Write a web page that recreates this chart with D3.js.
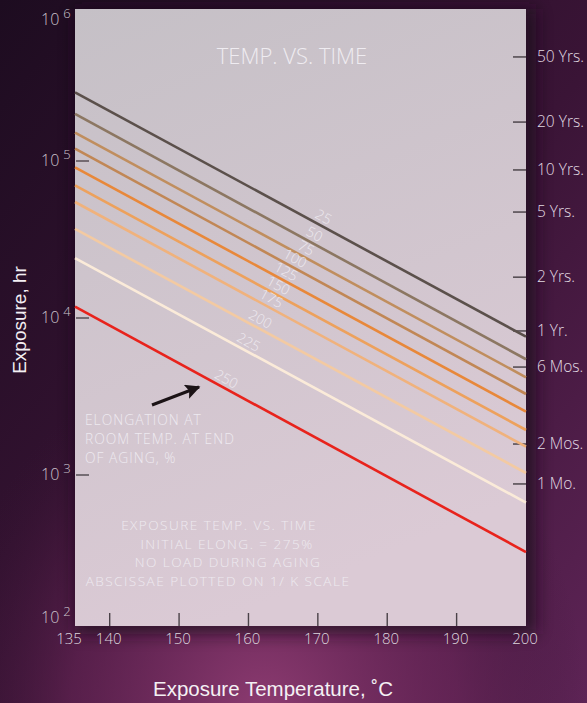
<!DOCTYPE html>
<html>
<head>
<meta charset="utf-8">
<script src="https://cdn.jsdelivr.net/npm/d3@7"></script>
<style>
  html, body { margin: 0; padding: 0; background: #1f0e22; }
  svg { display: block; }
</style>
</head>
<body>
<svg id="chart"></svg>
<script>
// Aging curves: elongation (%) left after exposure, hours at 135 C and at 200 C
const elongations = [25, 50, 75, 100, 125, 150, 175, 200, 225, 250];
const hoursAt135 = [274000, 199300, 151500, 119800, 91200, 70000, 54800, 36900, 24100, 11800];
const hoursAt200 = [7600, 5460, 4190, 3280, 2530, 1935, 1515, 1030, 667, 323];
const labelTemps = [170.2, 168.9, 167.7, 166.1, 164.8, 163.7, 162.7, 161.1, 159.4, 156.2];
const lineColors = ["#5b504b", "#8c7762", "#c08e5e", "#c18755", "#e8883a",
                    "#eda15c", "#f0b27c", "#f3caa2", "#fbebd9", "#e8231c"];

const tempTicks = [135, 140, 150, 160, 170, 180, 190, 200];
const decadeTicks = [1e2, 1e3, 1e4, 1e5, 1e6];
const durationLabels = ["50 Yrs.", "20 Yrs.", "10 Yrs.", "5 Yrs.", "2 Yrs.", "1 Yr.", "6 Mos.", "2 Mos.", "1 Mo."];
const durationHours = [460000, 177000, 87700, 47300, 18200, 8270, 4870, 1575, 877];

const notesLeft = ["ELONGATION AT", "ROOM TEMP. AT END", "OF AGING, %"];
const notesCenter = ["EXPOSURE TEMP. VS. TIME", "INITIAL ELONG. = 275%",
                     "NO LOAD DURING AGING", "ABSCISSAE PLOTTED ON 1/ K SCALE"];

const W = 587, H = 703;
const plot = { left: 75, right: 526, top: 9, bottom: 626 };
const lightFont = "'Open Sans', 'DejaVu Sans', sans-serif";

const svg = d3.select("#chart")
    .attr("width", W)
    .attr("height", H);

const defs = svg.append("defs");

// backdrop gradients
const glow = defs.append("radialGradient")
    .attr("id", "glow")
    .attr("cx", 0.45).attr("cy", 1.02).attr("r", 0.55);
glow.append("stop").attr("offset", "0%").attr("stop-color", "#8e3c72").attr("stop-opacity", 1);
glow.append("stop").attr("offset", "60%").attr("stop-color", "#6a2658").attr("stop-opacity", 0.6);
glow.append("stop").attr("offset", "100%").attr("stop-color", "#3a1434").attr("stop-opacity", 0);

const side = defs.append("linearGradient")
    .attr("id", "side")
    .attr("x1", 0).attr("y1", 0).attr("x2", 1).attr("y2", 1);
side.append("stop").attr("offset", "0%").attr("stop-color", "#1d0c20");
side.append("stop").attr("offset", "55%").attr("stop-color", "#3a1436");
side.append("stop").attr("offset", "100%").attr("stop-color", "#5e2456");

const paper = defs.append("linearGradient")
    .attr("id", "paper")
    .attr("x1", 0).attr("y1", 0).attr("x2", 0.3).attr("y2", 1);
paper.append("stop").attr("offset", "0%").attr("stop-color", "#c5c0c6");
paper.append("stop").attr("offset", "100%").attr("stop-color", "#dbcad5");

const blur = defs.append("filter").attr("id", "blur")
    .attr("x", -0.2).attr("y", -0.2).attr("width", 1.4).attr("height", 1.4);
blur.append("feGaussianBlur").attr("stdDeviation", 8);

svg.append("rect").attr("width", W).attr("height", H).attr("fill", "url(#side)");
svg.append("rect").attr("width", W).attr("height", H).attr("fill", "url(#glow)");

// shadow behind the plot
svg.append("rect")
    .attr("x", plot.left).attr("y", plot.top)
    .attr("width", plot.right - plot.left + 10)
    .attr("height", plot.bottom - plot.top + 8)
    .attr("fill", "#1c0a1c")
    .attr("opacity", 0.7)
    .attr("filter", "url(#blur)");

svg.append("rect")
    .attr("x", plot.left).attr("y", plot.top)
    .attr("width", plot.right - plot.left)
    .attr("height", plot.bottom - plot.top)
    .attr("fill", "url(#paper)");

// scales
const x = d3.scaleLinear().domain([135, 200]).range([plot.left, plot.right]);
const y = d3.scaleLog().domain([1e2, 1e6]).range([632, 4]);

// left decade ticks + labels
decadeTicks.forEach(v => {
    if (v > 1e2 && v < 1e6) {
        svg.append("line")
            .attr("x1", plot.left + 1).attr("x2", plot.left + 14)
            .attr("y1", y(v)).attr("y2", y(v))
            .attr("stroke", "#5e565c").attr("stroke-width", 1.6);
    }
    const ly = Math.max(plot.top + 10, Math.min(plot.bottom - 9, y(v) - 1));
    const t = svg.append("text")
        .attr("x", 41).attr("y", ly + 6)
        .attr("fill", "#cbc3cc")
        .style("font-family", lightFont)
        .style("font-weight", 300)
        .style("font-size", "16px");
    t.append("tspan").text("10");
    t.append("tspan")
        .attr("dx", 4).attr("dy", -7)
        .style("font-size", "13px")
        .text(Math.round(Math.log10(v)));
});

// right duration ticks + labels
durationHours.forEach((h, i) => {
    svg.append("line")
        .attr("x1", plot.right - 13).attr("x2", plot.right)
        .attr("y1", y(h)).attr("y2", y(h))
        .attr("stroke", "#4e464c").attr("stroke-width", 1.5);
    svg.append("text")
        .attr("x", 537).attr("y", y(h) + 5)
        .attr("fill", "#e2dbe3")
        .style("font-family", lightFont)
        .style("font-weight", 300)
        .style("font-size", "15.5px")
        .text(durationLabels[i]);
});

// bottom temperature ticks + labels
tempTicks.forEach(t => {
    if (t > 135 && t < 200) {
        svg.append("line")
            .attr("x1", x(t)).attr("x2", x(t))
            .attr("y1", plot.bottom - 13).attr("y2", plot.bottom)
            .attr("stroke", "#4a4248").attr("stroke-width", 1.4);
    }
    svg.append("text")
        .attr("x", t === 135 ? x(t) - 6 : x(t) - 1)
        .attr("y", 644)
        .attr("text-anchor", "middle")
        .attr("fill", "#ddd6de")
        .style("font-family", lightFont)
        .style("font-weight", 300)
        .style("font-size", "15px")
        .text(t);
});

// aging curves, straight between the two end temperatures
const line = d3.line().x(d => x(d[0])).y(d => y(d[1]));
elongations.forEach((e, i) => {
    const pts = [[135, hoursAt135[i]], [200, hoursAt200[i]]];
    svg.append("path")
        .attr("d", line(pts))
        .attr("fill", "none")
        .attr("stroke", lineColors[i])
        .attr("stroke-width", 2.6);

    // rotated label above the curve
    const f = (labelTemps[i] - 135) / 65;
    const lh = Math.pow(10, Math.log10(hoursAt135[i]) + f * (Math.log10(hoursAt200[i]) - Math.log10(hoursAt135[i])));
    const px = x(labelTemps[i]), py = y(lh);
    const ang = Math.atan2(y(hoursAt200[i]) - y(hoursAt135[i]), x(200) - x(135)) * 180 / Math.PI;
    svg.append("text")
        .attr("transform", `translate(${px},${py}) rotate(${ang})`)
        .attr("y", -4)
        .attr("text-anchor", "middle")
        .attr("fill", "#eeeaf0")
        .style("font-family", lightFont)
        .style("font-weight", 300)
        .style("font-size", "14px")
        .text(e);
});

// title
svg.append("text")
    .attr("x", 292).attr("y", 64)
    .attr("text-anchor", "middle")
    .attr("fill", "#efecf1")
    .style("font-family", lightFont)
    .style("font-weight", 300)
    .style("font-size", "22px")
    .text("TEMP. VS. TIME");

// arrow pointing at the 250 curve
defs.append("marker")
    .attr("id", "head")
    .attr("viewBox", "0 0 10 10")
    .attr("refX", 9).attr("refY", 5)
    .attr("markerWidth", 6).attr("markerHeight", 5)
    .attr("markerUnits", "strokeWidth")
    .attr("orient", "auto")
    .append("path")
    .attr("d", "M0,0 L10,5 L0,10 L2,5 Z")
    .attr("fill", "#1b1316");

svg.append("line")
    .attr("x1", 152).attr("y1", 405)
    .attr("x2", 199).attr("y2", 387)
    .attr("stroke", "#1b1316")
    .attr("stroke-width", 3)
    .attr("marker-end", "url(#head)");

// notes (tight leading, so a smaller face spread with letter-spacing)
notesLeft.forEach((s, i) => {
    svg.append("text")
        .attr("x", 85).attr("y", 425 + i * 19)
        .attr("fill", "#eeeaf0")
        .style("font-family", lightFont)
        .style("font-weight", 300)
        .style("font-size", "13.8px")
        .style("letter-spacing", "1px")
        .text(s);
});

const centerX = [219, 227, 228, 218];
notesCenter.forEach((s, i) => {
    svg.append("text")
        .attr("x", centerX[i]).attr("y", 530 + i * 18.7)
        .attr("text-anchor", "middle")
        .attr("fill", "#eeeaf0")
        .style("font-family", lightFont)
        .style("font-weight", 300)
        .style("font-size", "13.6px")
        .style("letter-spacing", "1.45px")
        .text(s);
});

// axis titles
svg.append("text")
    .attr("transform", "translate(26,320) rotate(-90)")
    .attr("text-anchor", "middle")
    .attr("fill", "#f4f0f4")
    .style("font-family", "'Liberation Sans', Arial, sans-serif")
    .style("font-size", "19px")
    .text("Exposure, hr");

svg.append("text")
    .attr("x", 273).attr("y", 696)
    .attr("text-anchor", "middle")
    .attr("fill", "#f4f0f4")
    .style("font-family", "'Liberation Sans', Arial, sans-serif")
    .style("font-size", "20.5px")
    .text("Exposure Temperature, \u02daC");
</script>
</body>
</html>
